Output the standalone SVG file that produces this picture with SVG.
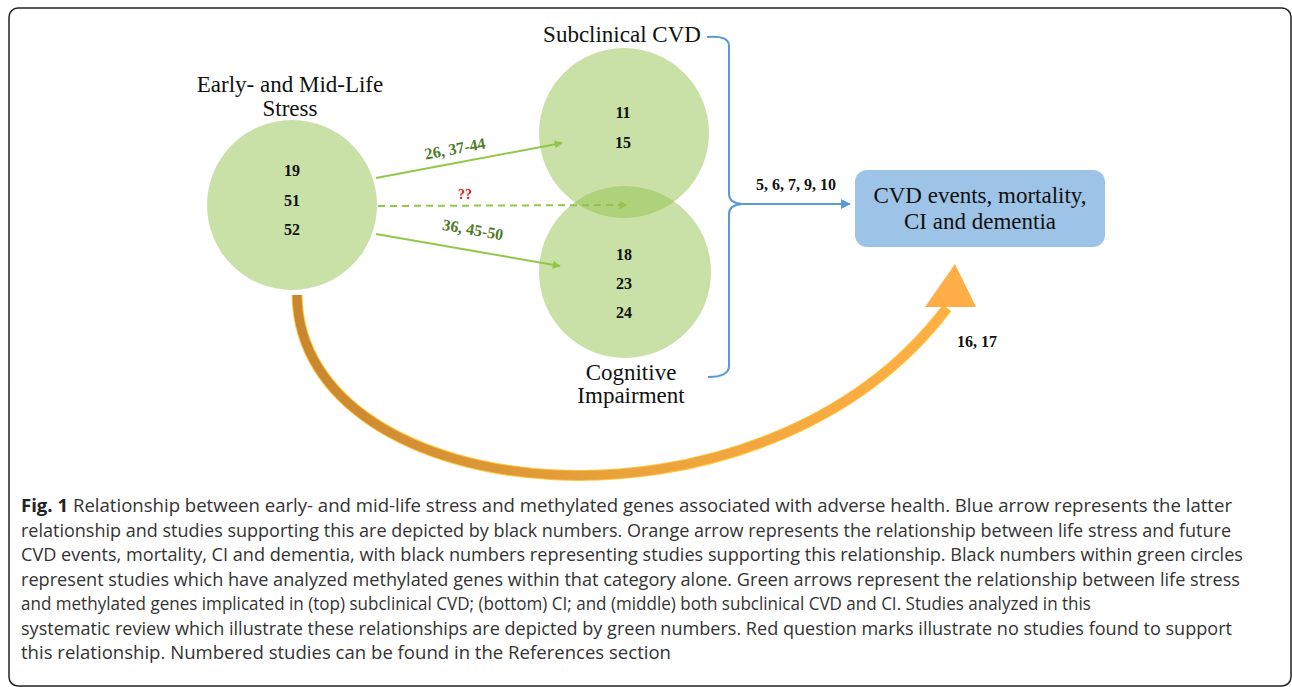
<svg xmlns="http://www.w3.org/2000/svg" width="1292" height="687" viewBox="0 0 1292 687">
<style>
.title{font-family:"Liberation Serif","Times New Roman",serif;font-size:23px;fill:#111;text-anchor:middle}
.num{font-family:"Liberation Serif","Times New Roman",serif;font-size:16px;font-weight:bold;fill:#111;text-anchor:middle}
.glab{font-family:"Liberation Serif","Times New Roman",serif;font-size:16px;font-weight:bold;fill:#4f7a28;text-anchor:middle}
.cap{font-family:"Open Sans","Noto Sans",sans-serif;font-size:18px;fill:#333}
.circ{fill:#94c150;fill-opacity:0.5}
.garr{stroke:#92c846;stroke-width:2;fill:none}
.blue{stroke:#5b9bd5;stroke-width:2;fill:none}
</style>
<defs>
<marker id="gh2" viewBox="0 0 10 10" refX="9" refY="5" markerWidth="9" markerHeight="8" orient="auto" markerUnits="userSpaceOnUse">
<path d="M0,0 L10,5 L0,10 z" fill="#92c846"/>
</marker>
<marker id="bh" viewBox="0 0 10 10" refX="9" refY="5" markerWidth="10" markerHeight="10" orient="auto" markerUnits="userSpaceOnUse">
<path d="M0,0 L10,5 L0,10 z" fill="#5b9bd5"/>
</marker>
<linearGradient id="og" gradientUnits="userSpaceOnUse" x1="297" y1="0" x2="950" y2="0">
<stop offset="0" stop-color="#c8862f"/>
<stop offset="0.5" stop-color="#eaa23a"/>
<stop offset="1" stop-color="#ffb045"/>
</linearGradient>
</defs>

<rect x="9" y="8" width="1282" height="678" rx="9" fill="#fff" stroke="#222" stroke-width="1.5"/>

<g id="connectors">
<path d="M297,295 C300,510 760,555 947,308" stroke="#ffc640" stroke-width="11" fill="none"/>
<path d="M297,295 C300,510 760,555 947,308" stroke="url(#og)" stroke-width="9" fill="none"/>
<polygon points="955,264 925,307 976,307" fill="#ffad47"/>
<line class="garr" x1="376" y1="178" x2="562" y2="143" marker-end="url(#gh2)"/>
<line class="garr" x1="378" y1="206" x2="627" y2="205" stroke-dasharray="7,5" marker-end="url(#gh2)"/>
<line class="garr" x1="376" y1="234" x2="560" y2="266" marker-end="url(#gh2)"/>
<path class="blue" d="M707,37 Q729,35 729,46 L729,194 Q729,203 742,204 Q729,205 729,214 L729,366 Q729,377 708,377"/>
<line class="blue" x1="738" y1="204" x2="850" y2="204" marker-end="url(#bh)"/>
<text class="glab" transform="translate(456,154) rotate(-10.5)">26, 37-44</text>
<text class="glab" x="465" y="199" font-size="14" style="fill:#e01010;font-size:14px">??</text>
<text class="glab" transform="translate(472,235) rotate(9.9)">36, 45-50</text>
<text class="num" x="796" y="190">5, 6, 7, 9, 10</text>
<text class="num" x="977" y="347">16, 17</text>
</g>

<g id="stress">
<circle class="circ" cx="292" cy="205" r="85"/>
<text class="title" x="290" y="92">Early- and Mid-Life</text>
<text class="title" x="290" y="116">Stress</text>
<text class="num" x="292" y="176">19</text>
<text class="num" x="292" y="206">51</text>
<text class="num" x="292" y="235">52</text>
</g>

<g id="subclinical">
<circle class="circ" cx="624" cy="133" r="85"/>
<text class="title" x="622" y="42">Subclinical CVD</text>
<text class="num" x="623" y="118">11</text>
<text class="num" x="623" y="148">15</text>
</g>

<g id="cognitive">
<circle class="circ" cx="625" cy="272" r="86"/>
<text class="title" x="631" y="380">Cognitive</text>
<text class="title" x="631" y="403">Impairment</text>
<text class="num" x="624" y="260">18</text>
<text class="num" x="624" y="289">23</text>
<text class="num" x="624" y="318">24</text>
</g>

<g id="outcome">
<rect x="855" y="170" width="250" height="77" rx="12" fill="#9dc3e6"/>
<text class="title" x="980" y="203">CVD events, mortality,</text>
<text class="title" x="980" y="229">CI and dementia</text>
</g>

<g id="caption">
<text class="cap" x="21" y="512" textLength="1211" lengthAdjust="spacingAndGlyphs"><tspan font-weight="bold" fill="#222">Fig. 1</tspan> Relationship between early- and mid-life stress and methylated genes associated with adverse health. Blue arrow represents the latter</text>
<text class="cap" x="21" y="537" textLength="1210" lengthAdjust="spacingAndGlyphs">relationship and studies supporting this are depicted by black numbers. Orange arrow represents the relationship between life stress and future</text>
<text class="cap" x="21" y="561" textLength="1222" lengthAdjust="spacingAndGlyphs">CVD events, mortality, CI and dementia, with black numbers representing studies supporting this relationship. Black numbers within green circles</text>
<text class="cap" x="21" y="586" textLength="1219" lengthAdjust="spacingAndGlyphs">represent studies which have analyzed methylated genes within that category alone. Green arrows represent the relationship between life stress</text>
<text class="cap" x="21" y="610" textLength="1070" lengthAdjust="spacingAndGlyphs">and methylated genes implicated in (top) subclinical CVD; (bottom) CI; and (middle) both subclinical CVD and CI. Studies analyzed in this</text>
<text class="cap" x="21" y="635" textLength="1211" lengthAdjust="spacingAndGlyphs">systematic review which illustrate these relationships are depicted by green numbers. Red question marks illustrate no studies found to support</text>
<text class="cap" x="21" y="659" textLength="650" lengthAdjust="spacingAndGlyphs">this relationship. Numbered studies can be found in the References section</text>
</g>
</svg>
